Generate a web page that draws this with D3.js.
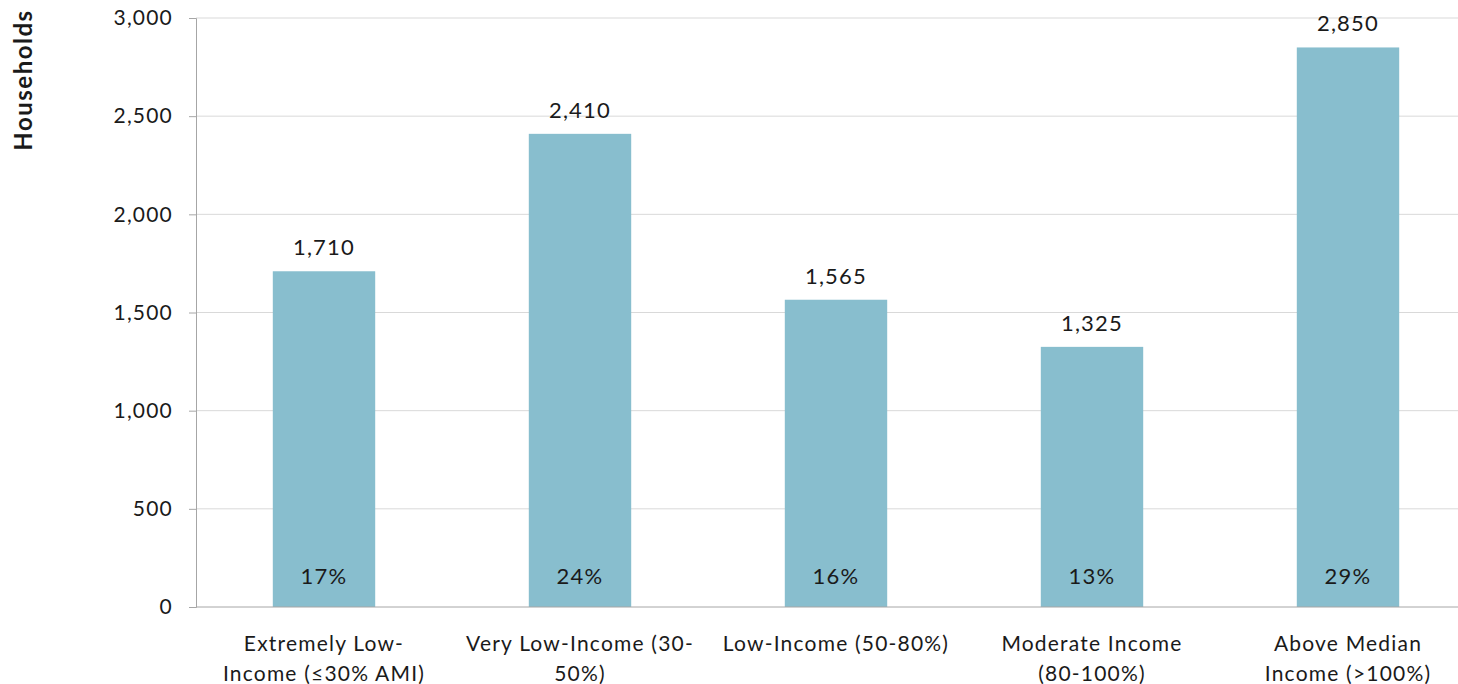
<!DOCTYPE html>
<html><head><meta charset="utf-8">
<script src="https://cdn.jsdelivr.net/npm/d3@7"></script>
<style>
body{margin:0;background:#fff;}
svg{display:block;}
text{font-family:"Century Gothic","Lato","Open Sans",sans-serif;fill:#1a1a1a;letter-spacing:1.2px;}
</style></head>
<body>
<svg id="chart" width="1458" height="684"></svg>
<script>
const categories = ["Extremely Low-Income (≤30% AMI)","Very Low-Income (30-50%)","Low-Income (50-80%)","Moderate Income (80-100%)","Above Median Income (>100%)"];
const tickLabelLines = [["Extremely Low-","Income (≤30% AMI)"],["Very Low-Income (30-","50%)"],["Low-Income (50-80%)"],["Moderate Income","(80-100%)"],["Above Median","Income (>100%)"]];
const households = [1710, 2410, 1565, 1325, 2850];
const shares = ["17%","24%","16%","13%","29%"];
const yTicks = [0,500,1000,1500,2000,2500,3000];
const yTitle = "Households";

const svg = d3.select("#chart");
const x = d3.scaleBand().domain(categories).range([196,1476]).paddingInner(0.6).paddingOuter(0.3);
const y = d3.scaleLinear().domain([0,3000]).range([607,18]);
const fmt = d3.format(",");

// gridlines
svg.append("g").selectAll("line").data(yTicks.filter(d=>d>0)).join("line")
  .attr("x1",196).attr("x2",1476).attr("y1",d=>y(d)).attr("y2",d=>y(d))
  .attr("stroke","#d9d9d9").attr("stroke-width",1);

// y axis
const yAxis = svg.append("g").attr("transform","translate(196,0)")
  .call(d3.axisLeft(y).tickValues(yTicks).tickFormat(fmt).tickSize(7).tickPadding(16));
yAxis.select(".domain").attr("stroke","#a6a6a6");
yAxis.selectAll(".tick line").attr("stroke","#a6a6a6");
yAxis.selectAll(".tick text").attr("font-size",21).attr("fill","#1a1a1a").style("font-family",null);

// bars
svg.append("g").selectAll("rect").data(categories).join("rect")
  .attr("x",d=>x(d)).attr("width",x.bandwidth())
  .attr("y",(d,i)=>y(households[i])).attr("height",(d,i)=>y(0)-y(households[i]))
  .attr("fill","#88bece");

// x axis baseline
svg.append("line").attr("x1",196).attr("x2",1476).attr("y1",y(0)).attr("y2",y(0))
  .attr("stroke","#a6a6a6").attr("stroke-width",1);

// value labels
svg.append("g").selectAll("text").data(categories).join("text")
  .attr("x",d=>x(d)+x.bandwidth()/2).attr("y",(d,i)=>y(households[i])-16)
  .attr("text-anchor","middle").attr("font-size",22).text((d,i)=>fmt(households[i]));

// share labels
svg.append("g").selectAll("text").data(categories).join("text")
  .attr("x",d=>x(d)+x.bandwidth()/2).attr("y",584)
  .attr("text-anchor","middle").attr("font-size",22).text((d,i)=>shares[i]);

// x tick labels
const xl = svg.append("g").selectAll("text").data(categories).join("text")
  .attr("x",d=>x(d)+x.bandwidth()/2).attr("y",651)
  .attr("text-anchor","middle").attr("font-size",21);
xl.each(function(d,i){
  const t=d3.select(this);
  tickLabelLines[i].forEach((ln,j)=>{
    t.append("tspan").attr("x",x(d)+x.bandwidth()/2).attr("dy",j===0?0:30).text(ln);
  });
});

// y title
svg.append("text").attr("transform","translate(32,80) rotate(-90)")
  .attr("text-anchor","middle").attr("font-size",24).attr("font-weight","bold")
  .style("letter-spacing","1.5px").text(yTitle);
</script>
</body></html>
